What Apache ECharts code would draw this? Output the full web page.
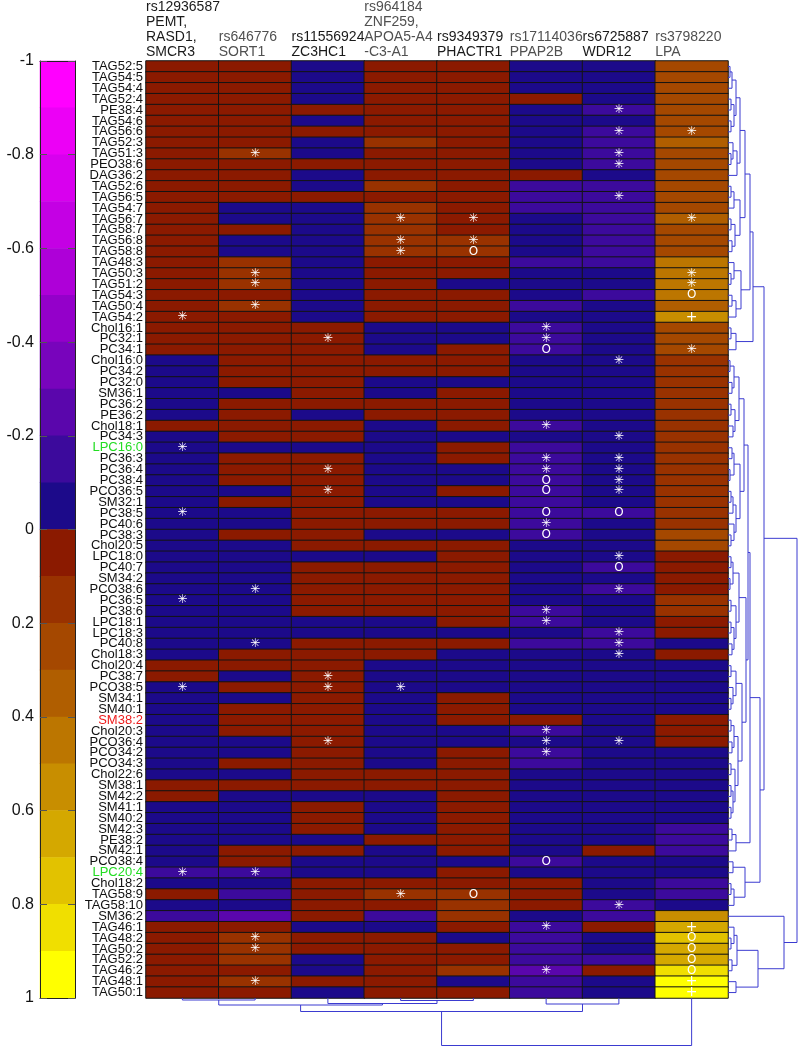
<!DOCTYPE html>
<html><head><meta charset="utf-8">
<script src="https://cdn.jsdelivr.net/npm/echarts@6/dist/echarts.min.js"></script>
<style>html,body{margin:0;padding:0;background:#fff}#c{width:800px;height:1049px}</style>
</head><body><div id="c"></div>
<script>
// ---------- data ----------
const rowLabels = ['TAG52:5','TAG54:5','TAG54:4','TAG52:4','PE38:4','TAG54:6','TAG56:6','TAG52:3','TAG51:3','PEO38:6',
'DAG36:2','TAG52:6','TAG56:5','TAG54:7','TAG56:7','TAG58:7','TAG56:8','TAG58:8','TAG48:3','TAG50:3',
'TAG51:2','TAG54:3','TAG50:4','TAG54:2','Chol16:1','PC32:1','PC34:1','Chol16:0','PC34:2','PC32:0',
'SM36:1','PC36:2','PE36:2','Chol18:1','PC34:3','LPC16:0','PC36:3','PC36:4','PC38:4','PCO36:5',
'SM32:1','PC38:5','PC40:6','PC38:3','Chol20:5','LPC18:0','PC40:7','SM34:2','PCO38:6','PC36:5',
'PC38:6','LPC18:1','LPC18:3','PC40:8','Chol18:3','Chol20:4','PC38:7','PCO38:5','SM34:1','SM40:1',
'SM38:2','Chol20:3','PCO36:4','PCO34:2','PCO34:3','Chol22:6','SM38:1','SM42:2','SM41:1','SM40:2',
'SM42:3','PE38:2','SM42:1','PCO38:4','LPC20:4','Chol18:2','TAG58:9','TAG58:10','SM36:2','TAG46:1',
'TAG48:2','TAG50:2','TAG52:2','TAG46:2','TAG48:1','TAG50:1'];

const colHeaders = [
  ['rs12936587','PEMT,','RASD1,','SMCR3'],
  ['rs646776','SORT1'],
  ['rs11556924','ZC3HC1'],
  ['rs964184','ZNF259,','APOA5-A4','-C3-A1'],
  ['rs9349379','PHACTR1'],
  ['rs17114036','PPAP2B'],
  ['rs6725887','WDR12'],
  ['rs3798220','LPA']
];

// correlation estimate per row (columns in header order)
const cellValues = [
[.05,.05,-.05,.05,.05,-.05,-.05,.25],
[.05,.05,-.05,.05,.05,-.05,-.05,.25],
[.05,.05,-.05,.05,.05,-.05,-.05,.25],
[.05,.05,-.05,.05,.05,.05,-.05,.25],
[.05,.05,.05,.05,.05,-.05,-.15,.25],
[.05,.05,-.05,.05,.05,-.05,-.05,.25],
[.05,.05,.05,.05,.05,-.05,-.15,.25],
[.05,.05,-.05,.15,.05,-.05,-.15,.35],
[.05,.15,-.05,.05,.05,-.05,-.15,.25],
[.05,.05,.05,.05,.05,-.05,-.15,.25],
[.05,.05,-.05,.05,.05,.05,-.05,.25],
[.05,.05,-.05,.15,.05,-.15,-.15,.25],
[.05,.05,.05,.05,.05,-.15,-.15,.25],
[.05,-.05,-.05,.15,.05,-.15,-.15,.25],
[.05,-.05,-.05,.15,.05,-.05,-.15,.35],
[.05,.05,-.05,.15,.05,-.05,-.15,.25],
[.05,-.05,-.05,.15,.15,-.05,-.15,.25],
[.05,-.05,-.05,.15,.15,-.05,-.15,.25],
[.05,.15,-.05,.05,.05,-.15,-.15,.45],
[.05,.15,-.05,.05,.05,-.05,-.05,.45],
[.05,.15,-.05,.05,-.05,-.05,-.05,.45],
[.05,.05,-.05,.05,.05,-.05,-.15,.45],
[.05,.15,-.05,.05,.05,-.15,-.05,.35],
[.05,.05,-.05,.05,.05,-.05,-.05,.55],
[.05,.05,.05,-.05,-.05,-.15,-.05,.25],
[.05,.05,.05,-.05,-.05,-.15,-.05,.25],
[.05,.05,.05,-.05,.05,-.15,-.05,.25],
[-.05,.05,.05,.05,.05,-.05,-.05,.15],
[-.05,.05,.05,.05,.05,-.05,-.05,.15],
[-.05,.05,.05,-.05,-.05,-.05,-.05,.15],
[-.05,-.05,.05,-.05,.05,-.05,-.05,.15],
[-.05,.05,.05,.05,.05,-.05,-.05,.15],
[-.05,.05,-.05,.05,.05,-.05,-.05,.15],
[.05,.05,.05,-.05,.05,-.15,-.05,.15],
[-.05,.05,.05,-.05,-.05,-.05,-.05,.15],
[-.05,-.05,-.05,-.05,.05,-.15,-.05,.15],
[-.05,.05,.05,-.05,.05,-.15,-.05,.15],
[-.05,.05,.05,-.05,-.05,-.15,-.05,.15],
[-.05,.05,.05,-.05,-.05,-.15,-.05,.15],
[-.05,-.05,.05,-.05,.05,-.15,-.05,.15],
[-.05,.05,.05,-.05,-.05,-.15,-.05,.15],
[-.05,-.05,.05,.05,.05,-.15,-.15,.15],
[-.05,-.05,.05,.05,.05,-.15,-.05,.15],
[-.05,.05,.05,-.05,-.05,-.15,-.05,.25],
[-.05,-.05,.05,.05,.05,-.05,-.05,.25],
[-.05,-.05,-.05,-.05,.05,-.05,-.05,.05],
[-.05,-.05,.05,.05,.05,-.05,-.15,.05],
[-.05,-.05,.05,.05,.05,-.05,-.05,.05],
[-.05,-.05,.05,.05,.05,-.05,-.15,.05],
[-.05,-.05,.05,.05,.05,-.05,-.05,.15],
[-.05,-.05,.05,.05,.05,-.15,-.05,.15],
[-.05,-.05,-.05,-.05,.05,-.15,-.05,.05],
[-.05,-.05,-.05,-.05,-.05,-.05,-.15,.05],
[-.05,-.05,.05,.05,.05,-.15,-.15,-.05],
[-.05,.05,.05,.05,-.05,-.05,-.05,.05],
[.05,.05,.05,-.05,-.05,-.05,-.05,-.05],
[.05,-.05,.05,-.05,-.05,-.05,-.05,-.05],
[-.05,.05,.05,-.05,-.05,-.05,-.05,-.05],
[-.05,-.05,.05,-.05,.05,-.05,-.05,-.05],
[-.05,.05,.05,-.05,.05,-.05,-.05,-.05],
[-.05,.05,.05,-.05,.05,.05,-.05,.05],
[-.05,.05,.05,-.05,-.05,-.15,-.05,.05],
[-.05,-.05,.05,-.05,-.05,-.05,-.05,.05],
[-.05,-.05,.05,-.05,.05,-.15,-.05,-.05],
[-.05,.05,.05,-.05,.05,-.15,-.05,-.05],
[-.05,-.05,.05,.05,.05,-.05,-.05,-.05],
[.05,.05,.05,.05,.05,-.05,-.05,-.05],
[.05,-.05,-.05,-.05,.05,-.05,-.05,-.05],
[-.05,-.05,.05,-.05,.05,-.05,-.05,-.05],
[-.05,-.05,.05,-.05,.05,-.05,-.05,-.05],
[-.05,-.05,.05,-.05,.05,-.05,-.05,-.15],
[-.05,-.05,-.05,.05,.05,-.05,-.05,-.15],
[-.05,.05,.05,-.05,.05,-.05,.05,-.15],
[-.05,.05,-.05,-.05,-.05,-.15,-.05,-.05],
[-.15,-.15,-.05,-.05,.05,-.05,-.05,-.05],
[-.05,-.05,.05,.05,.05,.05,-.05,-.15],
[.05,-.15,.05,.15,.15,.05,-.05,-.15],
[-.05,-.05,.05,.05,.15,.05,-.15,-.05],
[-.15,-.25,.05,-.15,.15,-.05,-.15,.55],
[.05,.05,-.05,-.05,.05,-.15,.05,.65],
[.05,.15,.05,.05,-.05,-.15,-.05,.75],
[.05,.15,.05,.05,.05,-.15,-.05,.65],
[.05,.15,-.05,.05,.05,-.15,-.15,.65],
[.05,.05,-.05,.05,.15,-.25,.05,.85],
[.05,.15,.05,.05,-.05,-.15,-.05,.95],
[.05,.05,-.05,.05,.05,-.15,-.05,.95]
];

// significance marks per row: '*' asterisk, 'o' circle, '+' plus, '.' none
const cellMarks = [
'........','........','........','........','......*.','........','......**','........','.*....*.','......*.',
'........','........','......*.','........','...**..*','........','...**...','...*o...','........','.*.....*',
'.*.....*','.......o','.*......','*......+','.....*..','..*..*..','.....o.*','......*.','........','........',
'........','........','........','.....*..','......*.','*.......','.....**.','..*..**.','.....o*.','..*..o*.',
'........','*....oo.','.....*..','.....o..','........','......*.','......o.','........','.*....*.','*.......',
'.....*..','.....*..','......*.','.*....*.','......*.','........','..*.....','*.**....','........','........',
'........','.....*..','..*..**.','.....*..','........','........','........','........','........','........',
'........','........','........','.....o..','**......','........','...*o...','......*.','........','.....*.+',
'.*.....o','.*.....o','.......o','.....*.o','.*.....+','.......+'
];

// colour scale: 20 bins from -1 to 1
const scaleEdges = [-1,-0.9,-0.8,-0.7,-0.6,-0.5,-0.4,-0.3,-0.2,-0.1,0,0.1,0.2,0.3,0.4,0.5,0.6,0.7,0.8,0.9,1];
const scaleColors = ['#ff00ff','#ec00f6','#d800ee','#c400e4','#ae00d8','#9400ca','#7804bc','#5a06ac','#3c0a9c','#1c0a8a',
                     '#8b1a00','#993200','#a54800','#b05e00','#bc7600','#c88e00','#d4a800','#e2c200','#f0df00','#ffff00'];

// row clustering: [left, right, height]; leaves are row indices
const rowTreeA1 = [[[[0,1,2],2,4],[[3,4,3],[5,6,3],6],8],[[7,[8,9,3],5],10,9],12];
const rowTreeA2 = [[[11,12,3],13,6],[[14,15,3],[16,17,4],7],12];
const rowTreeA3 = [[18,[19,20,3],6],[[21,22,4],23,8],13];
const rowTreeA4 = [[24,25,3],26,8];
const rowTreeP1 = [[[27,28,2],[29,30,4],6],[[31,32,3],[33,34,5],7],11];
const rowTreeP2 = [[[35,36,4],[37,38,2],6],[[[39,40,3],41,5],[42,[43,44,3],6],8],12];
const rowTreeQ1 = [[[45,46,3],[47,48,2],5],[[49,50,3],[[51,52,3],[53,54,4],6],8],11];
const rowTreeQ2 = [[[55,56,3],[57,[58,59,3],5],8],[[[60,61,3],[62,63,4],6],[[64,65,3],[[66,67,3],[68,69,3],5],7],10],14];
const rowTreeB1b = [[70,71,4],72,8];
const rowTreeB2 = [[73,74,5],[[75,76,3],77,6],17];
const rowTreeC = [78,[[[79,[80,81,3],6],[82,83,4],9],[84,85,8],30],56];
// column clustering
const colTree = [[[[0,1,2],[2,[3,4,2.5],5.5],7],[5,6,6],13.5],7,47.5];

// ---------- build ----------
const rowTree = [[[[[rowTreeA1,rowTreeA2,17],rowTreeA3,22],rowTreeA4,25],
                  [[[[rowTreeP1,rowTreeP2,16],[rowTreeQ1,rowTreeQ2,18],20],rowTreeB1b,22],rowTreeB2,32],36],
                 rowTreeC,69];

function dendro(node, out, swap) {
  if (typeof node === 'number') return {p: node, h: 0};
  const a = dendro(node[0], out, swap), b = dendro(node[1], out, swap), h = node[2];
  const pts = [[a.h, a.p], [h, a.p], [h, b.p], [b.h, b.p]];
  out.push({coords: swap ? pts.map(q => [q[1], q[0]]) : pts});
  return {p: (a.p + b.p) / 2, h: h};
}
const rowLines = []; dendro(rowTree, rowLines, false);
const colLines = []; dendro(colTree, colLines, true);

const heatData = [];
cellValues.forEach((row, r) => row.forEach((v, c) => {
  heatData.push({value: [c, r, v], mark: cellMarks[r][c]});
}));
const binNames = scaleColors.map((_, i) => 'b' + i);
const barData = scaleColors.map((_, i) => [0, i, (scaleEdges[i] + scaleEdges[i + 1]) / 2]);
const pieces = scaleColors.map((col, i) => (i < 19 ? {gte: scaleEdges[i], lt: scaleEdges[i + 1], color: col}
                                                    : {gte: scaleEdges[i], lte: scaleEdges[i + 1], color: col}));
const headerSlots = colHeaders.map((_, i) => 'h' + i).concat(['end']);

const labelColor = {'LPC16:0': '#22dd22', 'LPC20:4': '#22dd22', 'SM38:2': '#ee1c1c'};
const headerTone = ['k','g','k','g','k','g','k','g'];
const FONT = 'Liberation Sans, Arial, sans-serif';
const lineColor = '#3b3bd0';

const chart = echarts.init(document.getElementById('c'), null, {renderer: 'canvas'});
chart.setOption({
  animation: false,
  backgroundColor: '#fff',
  textStyle: {fontFamily: FONT},
  grid: [
    {left: 146, top: 61, width: 582, height: 937},
    {left: 40, top: 61, width: 35, height: 937},
    {left: 728, top: 61, width: 72, height: 937},
    {left: 146, top: 998, width: 582, height: 51}
  ],
  xAxis: [
    {gridIndex: 0, type: 'category', data: colHeaders.map(h => h[0]), show: false},
    {gridIndex: 0, type: 'category', data: headerSlots, boundaryGap: false, position: 'top',
     axisLine: {show: false, onZero: false}, axisTick: {show: false}, splitLine: {show: false},
     axisLabel: {interval: 0, align: 'left', verticalAlign: 'bottom', margin: 1, showMinLabel: true,
       formatter: (v, i) => (colHeaders[i] ? colHeaders[i].map(s => '{' + headerTone[i] + '|' + s + '}').join('\n') : ''),
       rich: {k: {fontSize: 14, lineHeight: 15, color: '#1a1a1a', fontFamily: FONT},
              g: {fontSize: 14, lineHeight: 15, color: '#505050', fontFamily: FONT}}}},
    {gridIndex: 1, type: 'category', data: [''], position: 'bottom', z: 10,
     axisLine: {show: true, onZero: false, lineStyle: {color: '#222', width: 1}}, axisTick: {show: false}, axisLabel: {show: false}},
    {gridIndex: 1, type: 'category', data: [''], position: 'top', z: 10,
     axisLine: {show: true, onZero: false, lineStyle: {color: '#222', width: 1}}, axisTick: {show: false}, axisLabel: {show: false}},
    {gridIndex: 2, type: 'value', min: 0, max: 72, show: false},
    {gridIndex: 3, type: 'value', min: -0.5, max: 7.5, show: false}
  ],
  yAxis: [
    {gridIndex: 0, type: 'category', data: rowLabels, inverse: true, position: 'left',
     axisLine: {show: false}, axisTick: {show: false}, splitLine: {show: false},
     axisLabel: {interval: 0, margin: 3, fontSize: 13, fontFamily: FONT,
                 color: v => labelColor[v] || '#111'}},
    {gridIndex: 1, type: 'category', data: binNames, inverse: true, show: false},
    {gridIndex: 1, type: 'value', min: -1, max: 1, interval: 0.2, inverse: true, position: 'left', z: 10,
     axisLine: {show: true, onZero: false, lineStyle: {color: '#222'}},
     axisTick: {show: true, inside: true, length: 7, lineStyle: {color: '#555'}},
     splitLine: {show: false},
     axisLabel: {fontSize: 16, color: '#111', margin: 6, fontFamily: FONT}},
    {gridIndex: 1, type: 'value', min: -1, max: 1, interval: 0.2, inverse: true, position: 'right', z: 10,
     axisLine: {show: true, onZero: false, lineStyle: {color: '#222'}},
     axisTick: {show: true, inside: true, length: 7, lineStyle: {color: '#555'}},
     splitLine: {show: false}, axisLabel: {show: false}},
    {gridIndex: 2, type: 'value', min: -0.5, max: rowLabels.length - 0.5, inverse: true, show: false},
    {gridIndex: 3, type: 'value', min: 0, max: 51, inverse: true, show: false}
  ],
  visualMap: {type: 'piecewise', show: false, dimension: 2, seriesIndex: [0, 1], pieces: pieces},
  series: [
    {type: 'heatmap', xAxisIndex: 0, yAxisIndex: 0, data: heatData,
     itemStyle: {borderColor: '#141414', borderWidth: 1},
     emphasis: {disabled: true},
     label: {show: true, color: '#fff',
       formatter: p => (p.data.mark === '*' ? '{s|✳}' : p.data.mark === 'o' ? '{o|O}' : p.data.mark === '+' ? '{p|+}' : ''),
       rich: {s: {fontSize: 12, color: '#fff', fontFamily: 'DejaVu Sans'},
              o: {fontSize: 12, color: '#fff', fontFamily: 'DejaVu Sans'},
              p: {fontSize: 14, color: '#fff', fontFamily: 'DejaVu Sans'}}}},
    {type: 'heatmap', xAxisIndex: 2, yAxisIndex: 1, data: barData, emphasis: {disabled: true},
     itemStyle: {borderWidth: 0}},
    {type: 'lines', coordinateSystem: 'cartesian2d', xAxisIndex: 4, yAxisIndex: 4, polyline: true, silent: true,
     data: rowLines, lineStyle: {color: lineColor, width: 1, opacity: 1}},
    {type: 'lines', coordinateSystem: 'cartesian2d', xAxisIndex: 5, yAxisIndex: 5, polyline: true, silent: true,
     data: colLines, lineStyle: {color: lineColor, width: 1, opacity: 1}}
  ]
});
</script>
</body></html>
